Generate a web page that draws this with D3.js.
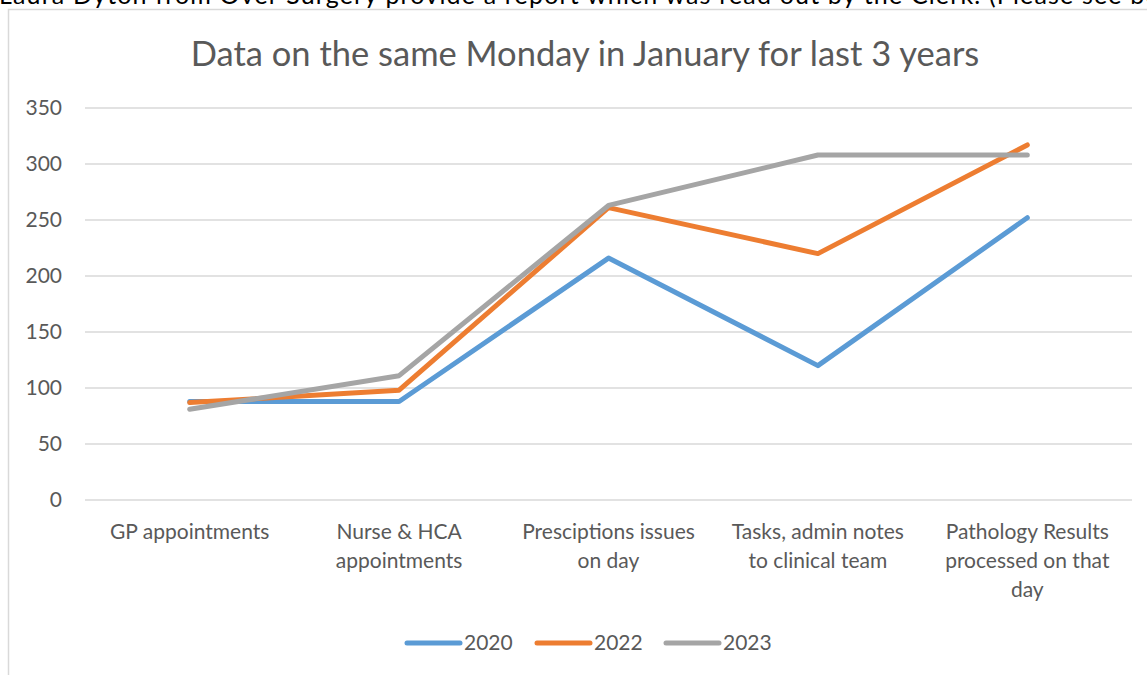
<!DOCTYPE html>
<html>
<head>
<meta charset="utf-8">
<script src="https://cdn.jsdelivr.net/npm/d3@7"></script>
<style>
body { margin: 0; background: #fff; overflow: hidden; }
svg { display: block; font-family: Lato, "Open Sans", sans-serif; }
.grid line { stroke: #d9d9d9; stroke-width: 1.3; }
.tick-label { fill: #595959; font-size: 21px; }
.series { fill: none; stroke-width: 5; stroke-linecap: round; stroke-linejoin: round; }
</style>
</head>
<body>
<svg width="1147" height="675"></svg>
<script>
var categories = [
    ["GP appointments"],
    ["Nurse & HCA", "appointments"],
    ["Presciptions issues", "on day"],
    ["Tasks, admin notes", "to clinical team"],
    ["Pathology Results", "processed on that", "day"]
];
var years = ["2020", "2022", "2023"];
var v2020 = [88, 88, 216, 120, 252];
var v2022 = [87, 98, 261, 220, 317];
var v2023 = [81, 111, 263, 308, 308];
var yTicks = [0, 50, 100, 150, 200, 250, 300, 350];
var colors = ["#5B9BD5", "#ED7D31", "#A5A5A5"];

var svg = d3.select("svg");

// clipped line of the surrounding document
svg.append("text")
    .attr("x", -1)
    .attr("y", 4)
    .attr("font-size", 25)
    .attr("fill", "#000")
    .attr("textLength", 1210)
    .text("Laura Dyton from Over Surgery provide a report which was read out by the Clerk. (Please see below)");

// chart frame
svg.append("rect")
    .attr("x", 8.5).attr("y", 9.5)
    .attr("width", 1200).attr("height", 700)
    .attr("fill", "none")
    .attr("stroke", "#d9d9d9")
    .attr("stroke-width", 1.5);

var plotLeft = 85, plotRight = 1132, plotTop = 108, plotBottom = 500;

var x = d3.scaleBand()
    .domain(d3.range(categories.length))
    .range([plotLeft, plotRight]);

var y = d3.scaleLinear()
    .domain([0, 350])
    .range([plotBottom, plotTop]);

svg.append("text")
    .attr("x", 585)
    .attr("y", 66)
    .attr("text-anchor", "middle")
    .attr("fill", "#595959")
    .attr("font-size", 34.5)
    .text("Data on the same Monday in January for last 3 years");

var grid = svg.append("g").attr("class", "grid");
grid.selectAll("line")
    .data(yTicks)
    .enter().append("line")
    .attr("x1", plotLeft)
    .attr("x2", plotRight)
    .attr("y1", function(d) { return y(d); })
    .attr("y2", function(d) { return y(d); });

svg.selectAll(".ylab")
    .data(yTicks)
    .enter().append("text")
    .attr("class", "tick-label")
    .attr("x", 62)
    .attr("y", function(d) { return y(d) + 7; })
    .attr("text-anchor", "end")
    .text(function(d) { return d; });

var xl = svg.selectAll(".xlab")
    .data(categories)
    .enter().append("text")
    .attr("class", "tick-label")
    .attr("text-anchor", "middle")
    .attr("x", function(d, i) { return x(i) + x.bandwidth() / 2; })
    .attr("y", 539);
xl.selectAll("tspan")
    .data(function(d) { return d; })
    .enter().append("tspan")
    .attr("x", function() { return d3.select(this.parentNode).attr("x"); })
    .attr("dy", function(d, i) { return i == 0 ? 0 : 29; })
    .text(function(d) { return d; });

var line = d3.line()
    .x(function(d, i) { return x(i) + x.bandwidth() / 2; })
    .y(function(d) { return y(d); });

var series = [v2020, v2022, v2023];
for (var i = 0; i < series.length; i++) {
    svg.append("path")
        .attr("class", "series")
        .attr("stroke", colors[i])
        .attr("d", line(series[i]));
}

// legend
var leg = svg.append("g");
var legX = [407, 537, 666];
for (var i = 0; i < years.length; i++) {
    leg.append("line")
        .attr("class", "series")
        .attr("stroke", colors[i])
        .attr("x1", legX[i]).attr("x2", legX[i] + 53)
        .attr("y1", 643).attr("y2", 643);
    leg.append("text")
        .attr("class", "tick-label")
        .attr("x", legX[i] + 57)
        .attr("y", 650)
        .text(years[i]);
}
</script>
</body>
</html>
